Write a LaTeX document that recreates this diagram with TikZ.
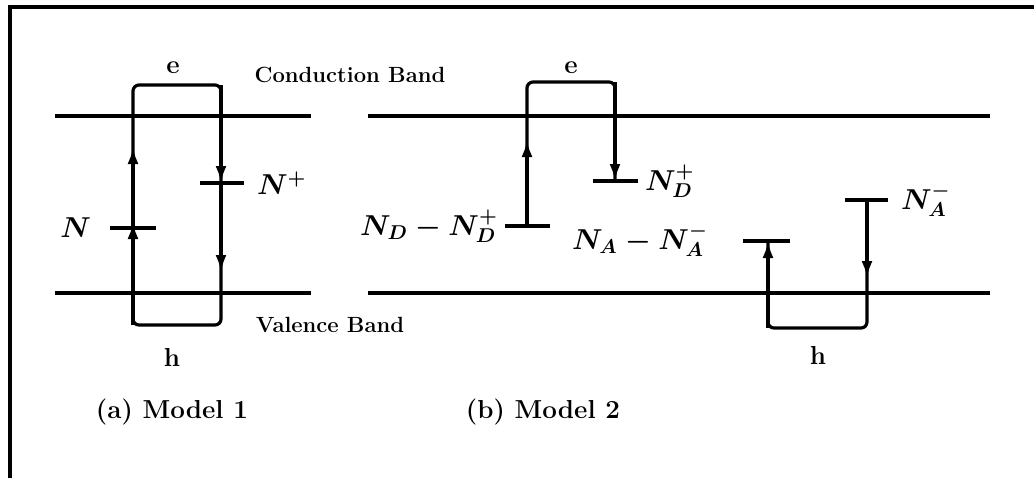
\documentclass[tikz,border=0pt]{standalone}
\usetikzlibrary{arrows.meta}

\begin{document}
\begin{tikzpicture}[x=0.5pt,y=-0.5pt,font=\fontsize{11}{13}\selectfont\bfseries,
        band/.style={line width=1.6pt},
        carrier/.style={line width=1.6pt,rounded corners=3pt},
        flow/.style={line width=1.6pt,-{Latex[length=8.5pt,width=5.5pt]}},
        lbl/.style={font=\fontsize{14.5}{16}\selectfont\boldmath},
        carrierlbl/.style={font=\fontsize{13}{15}\selectfont\bfseries},
        subcap/.style={font=\fontsize{13}{15}\selectfont\bfseries}]
        \useasboundingbox (0,0) rectangle (1034,478);

        % Level macro:
        % #1 = name, #2 = x-left, #3 = x-right, #4 = y
        \newcommand{\level}[4]{%
            \coordinate (#1a) at (#2,#4);
            \coordinate (#1b) at (#3,#4);
            \draw[band] (#1a) -- (#1b);
        }

        % frame
        \coordinate (fbl) at (10,478);
        \coordinate (ftl) at (10,7);
        \coordinate (ftr) at (1034,7);
        \draw[band] (fbl) -- (ftl) -- (ftr);

        % bands
        \level{cbone}{55}{311}{116}
        \level{vbone}{55}{311}{293}
        \level{cbtwo}{368}{990}{116}
        \level{vbtwo}{368}{990}{293}
        \node (cband) at (350,75) {Conduction Band};
        \node (vband) at (330,325) {Valence Band};

        % model 1
        \level{nn}{110}{156}{228}
        \level{np}{200}{244}{183}
        \coordinate (otl) at (133,85);
        \coordinate (otr) at (221,85);
        \coordinate (obr) at (221,325);
        \coordinate (obl) at (133,325);
        \coordinate (oup) at (133,147);
        \coordinate (odn) at (221,272);
        \draw[carrier] (otl) -- (otr) -- (obr) -- (obl) -- cycle;
        \draw[flow] (obl) -- (133,222);
        \draw[flow] (obl |- nna) -- (oup);
        \draw[flow] (otr) -- (otr |- npa);
        \draw[flow] (otr |- npa) -- (odn);
        \node[lbl,left=6pt] (nlab) at (nna) {$N$};
        \node[lbl,right=3pt] (nplab) at (npb) {$N^+$};
        \node[carrierlbl] (eone) at (173,68) {e};
        \node[carrierlbl] (hone) at (172,357) {h};
        \node[subcap] (capa) at (172,412) {(a) Model 1};

        % model 2, donor
        \level{nd}{505}{550}{226}
        \level{ndp}{593}{638}{181}
        \coordinate (dtl) at (527,82);
        \coordinate (dtr) at (615,82);
        \coordinate (dup) at (527,140);
        \draw[carrier] (dtl |- nda) -- (dtl) -- (dtr) -- (dtr |- ndpa);
        \draw[flow] (dtl |- nda) -- (dup);
        \draw[flow] (dtr) -- (dtr |- ndpa);
        \node[lbl,left=0pt] (ndlab) at (nda) {$N_D - N_D^+$};
        \node[lbl,right=0pt] (ndplab) at (ndpb) {$N_D^+$};
        \node[carrierlbl] (etwo) at (571,68) {e};

        % model 2, acceptor
        \level{na}{743}{790}{241}
        \level{nam}{845}{888}{200}
        \coordinate (abl) at (768,328);
        \coordinate (abr) at (867,328);
        \coordinate (adn) at (867,278);
        \draw[carrier] (abl |- naa) -- (abl) -- (abr) -- (abr |- nama);
        \draw[flow] (abl) -- (abl |- naa);
        \draw[flow] (abr |- nama) -- (adn);
        \node[lbl] (nalab) at (640,240) {$N_A - N_A^-$};
        \node[lbl,right=3pt] (namlab) at (namb) {$N_A^-$};
        \node[carrierlbl] (htwo) at (818,355) {h};
        \node[subcap] (capb) at (543,412) {(b) Model 2};
    \end{tikzpicture}
\end{document}
